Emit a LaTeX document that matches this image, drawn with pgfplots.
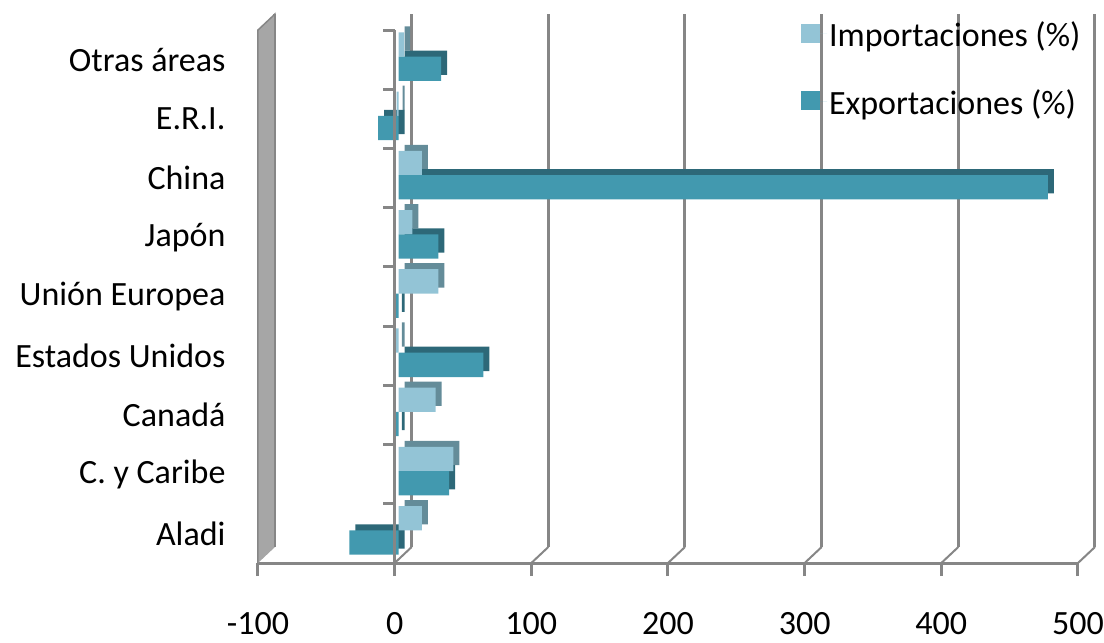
\documentclass[border=0pt]{standalone}
\usepackage{fontspec}
\setmainfont{Carlito}
\usepackage{pgfplots}
\usepackage{pgfplotstable}
\pgfplotsset{compat=1.18}
\definecolor{impF}{RGB}{147,196,214}
\definecolor{impS}{RGB}{100,140,153}
\definecolor{expF}{RGB}{66,153,175}
\definecolor{expS}{RGB}{45,104,120}
\definecolor{gridg}{RGB}{134,134,134}
\definecolor{wallg}{RGB}{166,166,166}
\pgfplotsset{sqlegend/.style={legend image code/.code={\path (0pt,0pt) -- (26pt,0pt);\fill[##1] (0pt,-9pt) rectangle (19pt,10pt);}}}
\pgfplotstableread{
y imp exp
0 17 -36
1 40 37
2 27 -2
3 -2 62
4 29 -2
5 10 29
6 17 475
7 -1.5 -15
8 4 31
}\data
\begin{document}
\fontsize{34}{40}\selectfont
\begin{tikzpicture}[x=1pt,y=1pt]
\begin{axis}[
  at={(258pt,80pt)}, anchor=south west, scale only axis,
  width=820pt, height=533pt,
  xmin=-100, xmax=500, ymin=-0.5, ymax=8.5,
  clip=false,
  xbar, bar width=0.41,
  xtick={-100,0,...,500},
  ytick={0,...,8},
  yticklabels={Aladi, C. y Caribe, Canadá, Estados Unidos, Unión Europea, Japón, China, E.R.I., Otras áreas},
  axis x line*=bottom, axis y line*=left,
  x axis line style={gridg, line width=3pt},
  y axis line style={draw=none},
  ytick style={draw=none},
  xtick style={gridg, line width=3pt},
  tick align=outside, major tick length=13pt,
  xmajorgrids, grid style={gridg, line width=3pt, xshift=17pt, yshift=16pt},
  yticklabel style={anchor=east, xshift=-8pt, font=\fontsize{34}{40}\selectfont},
  xticklabel style={yshift=-25pt, font=\fontsize{34}{40}\selectfont},
  /pgf/number format/assume math mode=true,
  legend style={at={(0.662,1.02)}, anchor=north west, draw=none, fill=none,
    row sep=34pt, inner sep=0pt, font=\fontsize{34}{40}\selectfont},
  legend cell align=left,
]
% wall
\fill[wallg] (axis cs:-100,-0.5) -- (axis cs:-100,8.5) -- ([xshift=17pt,yshift=16pt]axis cs:-100,8.5) -- ([xshift=17pt,yshift=16pt]axis cs:-100,-0.5) -- cycle;
\draw[gridg, line width=1.5pt] (axis cs:-100,-0.5) -- (axis cs:-100,8.5) -- ([xshift=17pt,yshift=16pt]axis cs:-100,8.5) -- ([xshift=17pt,yshift=16pt]axis cs:-100,-0.5);
\pgfplotsinvokeforeach{0,100,...,500}{\draw[gridg, line width=2pt] (axis cs:#1,-0.5) -- ([xshift=17pt,yshift=16pt]axis cs:#1,-0.5);}
% shadows
\addplot[forget plot, bar shift=0.205, fill=impS, draw=none, xshift=10pt, yshift=9pt] table[x=imp,y=y]{\data};
\addplot[forget plot, bar shift=-0.205, fill=expS, draw=none, xshift=10pt, yshift=9pt] table[x=exp,y=y]{\data};
% front faces
\addplot[bar shift=0.205, fill=impF, draw=none, xshift=4pt, yshift=3pt, sqlegend] table[x=imp,y=y]{\data};
\addplot[bar shift=-0.205, fill=expF, draw=none, xshift=4pt, yshift=3pt, sqlegend] table[x=exp,y=y]{\data};
% category axis
\draw[gridg, line width=3pt] (axis cs:0,-0.5) -- (axis cs:0,8.5);
\pgfplotsinvokeforeach{-0.5,0.5,...,8.5}{\draw[gridg, line width=3pt] (axis cs:0,#1) -- ++(-12pt,0pt);}
\legend{Importaciones (\%), Exportaciones (\%)}
\end{axis}
\pgfresetboundingbox
\path[use as bounding box] (0pt,0pt) rectangle (1104pt,643pt);
\end{tikzpicture}
\end{document}
